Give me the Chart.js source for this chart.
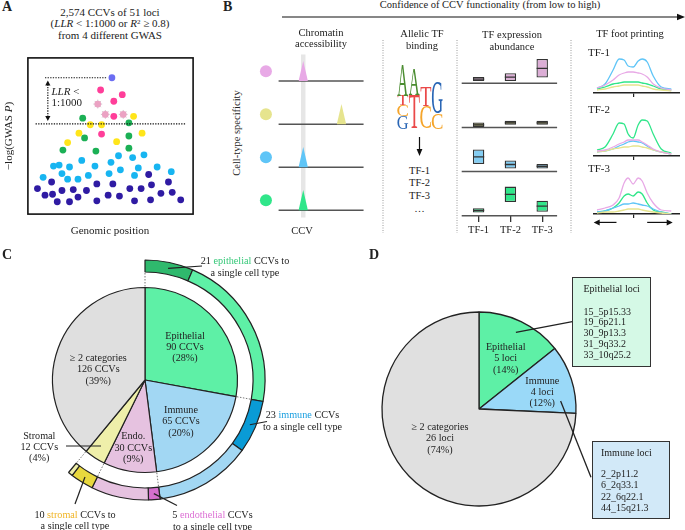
<!DOCTYPE html>
<html>
<head>
<meta charset="utf-8">
<script src="https://cdn.jsdelivr.net/npm/chart.js@4.4.1/dist/chart.umd.min.js"></script>
<style>
  body { margin: 0; background: #fff; }
  #fig { position: relative; width: 685px; height: 530px; overflow: hidden;
         font-family: "Liberation Serif", "DejaVu Serif", serif; color: #222; font-size: 10.5px; }
  #fig canvas { position: absolute; }
  .t { position: absolute; white-space: nowrap; line-height: 11.5px; text-align: center; transform: translate(-50%, -50%); }
  .l { position: absolute; white-space: nowrap; line-height: 11.5px; transform: translateY(-50%); }
  .p { position: absolute; font-weight: bold; font-size: 14px; transform: translateY(-50%); }
  .box { position: absolute; border: 1.5px solid #333; box-sizing: border-box; }
  sup { font-size: 7px; vertical-align: 3px; line-height: 0; }
</style>
</head>
<body>
<div id="fig">
  <svg width="685" height="530" style="position:absolute;left:0;top:0">
    <line x1="282" y1="17" x2="679" y2="17" stroke="#111" stroke-width="1.2"/>
    <polygon points="685,17 677,13.8 677,20.2" fill="#111"/>
    <g stroke="#9a9a9a" stroke-width="1" stroke-dasharray="1,1.5">
      <line x1="383" y1="40" x2="383" y2="233"/>
      <line x1="457" y1="40" x2="457" y2="233"/>
      <line x1="571" y1="40" x2="571" y2="233"/>
    </g>
    <line x1="419.5" y1="137" x2="419.5" y2="150" stroke="#111" stroke-width="1.2"/>
    <polygon points="419.5,156 416.6,149 422.4,149" fill="#111"/>
  </svg>
</div>
<script>
'use strict';

// ---- A: CCV scatter (genomic position, -log P)
const leadSnp = [[90, 146]];
const pinkCcvs = [[78, 133], [101, 128], [92, 121], [92, 105], [79, 86]];
const paleCcvs = [[75, 118], [83, 107], [102, 107]];
const yellowCcvs = [[113, 105], [67, 96], [79, 96], [55, 87], [122, 87], [43, 77], [95, 78]];
const greenCcvs = [[59, 103], [108, 98], [61, 82], [108, 84], [38, 69], [73, 68], [108, 71]];
const cyanSnps = [[97, 63], [58, 58], [112, 61], [124, 64], [28, 52], [34, 53], [45, 51], [72, 52], [89, 56],
  [118, 50], [138, 51], [17, 40], [37, 44], [43, 38], [54, 38], [65, 42], [87, 44], [99, 48], [114, 42], [153, 46]];
const navySnps = [[129, 43], [26, 35], [11, 28], [19, 21], [27, 22], [32, 14], [37, 26], [45, 14], [49, 27],
  [54, 19], [63, 26], [74, 33], [74, 15], [86, 21], [91, 33], [98, 20], [109, 28], [114, 15], [121, 28],
  [131, 16], [132, 32], [142, 23], [150, 35], [154, 24], [163, 16]];
const llrCut = 97;
const leadLevel = 146;

// ---- B: cell types (top to bottom rows)
const cellTypes = ['Endothelial', 'Stromal', 'Immune', 'Epithelial'];
const cellColors = ['#e8a9e6', '#e6e48e', '#5fc5f7', '#30e68a'];
const rowBase = [3, 2, 1, 0];
const peakPos = [0.29, 0.74, 0.29, 0.29];
const peakHeight = [0.47, 0.47, 0.47, 0.47];
const ccvPos = 0.29;

// motif logo, letters bottom -> top per position
const logoPositions = ['1', '2', '3', '4'];
const logoLetters = [['G', 'C', 'T', 'A'], ['T', 'A'], ['C', 'T'], ['C', 'G']];
const logoHeights = [[13, 11, 9, 30], [34, 27], [23, 20], [15, 31]];
const baseColors = { A: '#4a8c30', C: '#f5a52b', G: '#2a66b5', T: '#ea4949' };

// TF expression boxes [low, high] above each row's baseline
const tfNames = ['TF-1', 'TF-2', 'TF-3'];
const exprEndo = [[0.05, 0.14], [0.05, 0.23], [0.13, 0.55]];
const exprStromal = [[0.01, 0.11], [0.06, 0.15], [0.06, 0.15]];
const exprImmune = [[0.17, 0.50], [0.07, 0.25], [0.07, 0.17]];
const exprEpi = [[0.07, 0.17], [0.31, 0.66], [0.09, 0.34]];
const exprFill = ['#dcaed6', '#86854a', '#84cdf2', '#30e68a'];

// TF footprint signal by position
const fpPos = [-36, -28, -20, -14, -9, -5, 0, 5, 9, 14, 20, 28, 38];
const fp1Endo = [5, 8, 13, 18, 20, 21, 21, 20, 19, 16, 9, 5, 3];
const fp1Stromal = [3, 4, 6, 7, 8, 8, 8, 8, 7, 6, 4, 3, 2];
const fp1Immune = [5, 9, 23, 34, 33, 27, 26, 32, 34, 31, 17, 6, 4];
const fp1Epi = [4, 6, 9, 10, 11, 11, 11, 11, 10, 9, 7, 4, 3];
const fp2Endo = [5, 6, 9, 12, 14, 16, 16, 16, 14, 11, 7, 4, 2];
const fp2Stromal = [4, 5, 7, 8, 9, 9, 10, 10, 9, 8, 6, 4, 2];
const fp2Immune = [4, 5, 7, 10, 12, 14, 15, 14, 13, 10, 6, 4, 2];
const fp2Epi = [6, 9, 22, 33, 32, 22, 18, 31, 36, 35, 22, 7, 3];
const fp3Endo = [4, 6, 9, 16, 31, 36, 30, 36, 33, 21, 11, 4, 3];
const fp3Stromal = [1, 2, 2, 3, 4, 5, 5, 5, 4, 3, 2, 1, 0];
const fp3Immune = [2, 3, 6, 8, 10, 10, 11, 10, 9, 8, 5, 2, 0];
const fp3Epi = [2, 3, 6, 11, 18, 20, 18, 22, 20, 11, 4, 2, 0];

// ---- C: CCVs per category
const ccvGroups = ['Epithelial', 'Immune', 'Endo.', 'Stromal', '≥ 2 categories'];
const ccvCounts = [90, 65, 30, 12, 126];
const ccvColors = ['#5ef0a6', '#a2d7f3', '#e6c2e0', '#efefaa', '#dfdfdf'];
const singleCellCcvs = [21, 23, 5, 10];
const singleColors = ['#2fb96d', '#0a9bd6', '#d46fcd', '#e8d83e'];

// ---- D: loci per category
const lociGroups = ['Epithelial', 'Immune', '≥ 2 categories'];
const lociCounts = [5, 4, 26];
const lociColors = ['#5ef0a6', '#9ad9f8', '#e0e0e0'];
const epithelialLoci = ['15_5p15.33', '19_6p21.1', '30_9p13.3', '31_9q33.2', '33_10q25.2'];
const immuneLoci = ['2_2p11.2', '6_2q33.1', '22_6q22.1', '44_15q21.3'];

const SERIF = '"Liberation Serif", "DejaVu Serif", serif';
Chart.defaults.font.family = SERIF;
Chart.defaults.font.size = 10.5;
Chart.defaults.color = '#222';

const fig = document.getElementById('fig');

function makeCanvas(x, y, w, h) {
  const c = document.createElement('canvas');
  c.width = w; c.height = h;
  c.style.left = x + 'px'; c.style.top = y + 'px';
  c.style.width = w + 'px'; c.style.height = h + 'px';
  fig.appendChild(c);
  return c;
}

function text(x, y, html, cls, style) {
  const d = document.createElement('div');
  d.className = cls || 't';
  d.style.left = x + 'px';
  d.style.top = y + 'px';
  if (style) Object.assign(d.style, style);
  d.innerHTML = html;
  fig.appendChild(d);
  return d;
}

function baseOptions(extra) {
  return Object.assign({
    responsive: false,
    animation: false,
    events: [],
    layout: { padding: 0 },
    plugins: { legend: { display: false }, tooltip: { enabled: false } }
  }, extra);
}

function seg(ctx, x1, y1, x2, y2) {
  ctx.beginPath(); ctx.moveTo(x1, y1); ctx.lineTo(x2, y2); ctx.stroke();
}

function head(ctx, x, y, dx, dy, len, half) {
  // filled arrow head with tip at (x, y) pointing along (dx, dy)
  ctx.beginPath();
  ctx.moveTo(x, y);
  ctx.lineTo(x - dx * len - dy * half, y - dy * len + dx * half);
  ctx.lineTo(x - dx * len + dy * half, y - dy * len - dx * half);
  ctx.closePath();
  ctx.fill();
}

// ================= A =================
const frameA = {
  id: 'frameA',
  afterDraw(chart) {
    const { ctx, chartArea: a } = chart;
    const x = v => chart.scales.x.getPixelForValue(v);
    const y = v => chart.scales.y.getPixelForValue(v);
    ctx.save();
    ctx.strokeStyle = '#111';
    ctx.fillStyle = '#111';
    ctx.lineWidth = 1.6;
    ctx.strokeRect(a.left + 0.8, a.top + 0.8, a.width - 1.6, a.height - 1.6);
    ctx.lineWidth = 1.2;
    ctx.setLineDash([1.3, 1.3]);
    seg(ctx, x(9), y(llrCut), x(169), y(llrCut));
    seg(ctx, x(19), y(leadLevel), x(84), y(leadLevel));
    seg(ctx, x(22), y(leadLevel - 7), x(22), y(llrCut + 7));
    ctx.setLineDash([]);
    head(ctx, x(22), y(leadLevel - 3), 0, -1, 5, 2.6);
    head(ctx, x(22), y(llrCut + 3), 0, 1, 5, 2.6);
    ctx.restore();
  }
};

const dots = (data, color) => ({ data, backgroundColor: color, borderWidth: 0, pointRadius: 3.4 });

new Chart(makeCanvas(22, 52, 177, 168), {
  type: 'scatter',
  data: {
    datasets: [
      dots(leadSnp, '#6b6df2'),
      dots(pinkCcvs, '#ff3e99'),
      dots(paleCcvs, '#eba2c3'),
      { data: paleCcvs, pointStyle: 'star', pointRadius: 4.4, borderColor: '#b9aab2', borderWidth: 0.7,
        backgroundColor: 'transparent' },
      dots(yellowCcvs, '#ffe51a'),
      dots(greenCcvs, '#1bb055'),
      dots(cyanSnps, '#17b5f1'),
      dots(navySnps, '#2f1ba3')
    ]
  },
  options: baseOptions({
    scales: { x: { display: false, min: 0, max: 177 }, y: { display: false, min: 0, max: 168 } }
  }),
  plugins: [frameA]
});

// ================= B: chromatin accessibility =================
const chromSets = [{
  data: cellColors.map((c, i) => ({ x: -0.149, y: rowBase[i] + 0.23 })),
  showLine: false, pointRadius: 6, pointBackgroundColor: cellColors, pointBorderWidth: 0, order: 0
}];
cellTypes.forEach((name, i) => {
  const b = rowBase[i], p = peakPos[i];
  chromSets.push({
    label: name,
    data: [{ x: p - 0.055, y: b }, { x: p, y: b + peakHeight[i] }, { x: p + 0.055, y: b }],
    fill: { value: b }, backgroundColor: cellColors[i], borderWidth: 0, pointRadius: 0, tension: 0, order: 1
  });
  chromSets.push({
    data: [{ x: 0, y: b }, { x: 1, y: b }],
    borderColor: '#555', borderWidth: 1.5, pointRadius: 0, order: 5
  });
});
chromSets.push({
  data: [{ x: ccvPos, y: -0.17 }, { x: ccvPos, y: 3.62 }],
  borderColor: '#e6e6e6', borderWidth: 4.5, pointRadius: 0, order: 10
});

new Chart(makeCanvas(250, 45, 125, 185), {
  type: 'line',
  data: { datasets: chromSets },
  options: baseOptions({
    scales: {
      x: { type: 'linear', display: false, min: -0.266, max: 1.064 },
      y: { display: false, min: -0.32, max: 3.70 }
    }
  })
});

// ================= B: motif logo =================
const logoGlyphs = {
  id: 'logoGlyphs',
  afterDatasetsDraw(chart) {
    const ctx = chart.ctx;
    chart.data.datasets.forEach((ds, k) => {
      chart.getDatasetMeta(k).data.forEach((bar, i) => {
        const letter = ds.letters[i];
        if (!letter) return;
        const { x, y, base, width } = bar.getProps(['x', 'y', 'base', 'width'], true);
        const h = base - y;
        if (h <= 0) return;
        ctx.save();
        ctx.font = '100px ' + SERIF;
        ctx.textAlign = 'left';
        ctx.textBaseline = 'alphabetic';
        const m = ctx.measureText(letter);
        const gw = m.actualBoundingBoxLeft + m.actualBoundingBoxRight;
        const gh = m.actualBoundingBoxAscent + m.actualBoundingBoxDescent;
        ctx.translate(x - width / 2, y);
        ctx.scale(width / gw, h / gh);
        ctx.fillStyle = baseColors[letter];
        ctx.fillText(letter, m.actualBoundingBoxLeft, m.actualBoundingBoxAscent);
        ctx.restore();
      });
    });
  }
};

new Chart(makeCanvas(397, 60, 46, 69), {
  type: 'bar',
  data: {
    labels: logoPositions,
    datasets: [0, 1, 2, 3].map(k => ({
      data: logoHeights.map(h => h[k] || 0),
      letters: logoLetters.map(l => l[k] || ''),
      backgroundColor: 'rgba(0,0,0,0)', borderWidth: 0,
      barPercentage: 0.94, categoryPercentage: 1
    }))
  },
  options: baseOptions({
    scales: {
      x: { stacked: true, display: false },
      y: { stacked: true, display: false, min: 0, max: 69 }
    }
  }),
  plugins: [logoGlyphs]
});

// ================= B: TF expression =================
const exprRows = [exprEndo, exprStromal, exprImmune, exprEpi];
const exprSets = [];
exprRows.forEach((row, i) => {
  const b = rowBase[i];
  exprSets.push({
    type: 'bar',
    data: row.map(r => [b + r[0], b + r[1]]),
    backgroundColor: exprFill[i], borderColor: '#333', borderWidth: 1.3, borderSkipped: false,
    grouped: false, barPercentage: 0.36, categoryPercentage: 1, order: 2
  });
  exprSets.push({
    type: 'line',
    data: row.map(r => b + (r[0] + r[1]) / 2),
    showLine: false, pointStyle: 'line', pointRadius: 5.6,
    pointBorderColor: '#333', pointBorderWidth: 1.3, order: 1
  });
});

const rowLines = {
  id: 'rowLines',
  beforeDatasetsDraw(chart) {
    const { ctx, chartArea: a } = chart;
    ctx.save();
    ctx.strokeStyle = '#555';
    ctx.lineWidth = 1.5;
    rowBase.forEach(b => {
      const y = chart.scales.y.getPixelForValue(b);
      seg(ctx, a.left - 1, y, a.right - 1, y);
    });
    ctx.restore();
  }
};

new Chart(makeCanvas(455, 45, 110, 193), {
  type: 'bar',
  data: { labels: tfNames, datasets: exprSets },
  options: baseOptions({
    layout: { padding: { left: 7.7, right: 2.3 } },
    scales: {
      x: {
        type: 'category', offset: true,
        grid: { offset: false, drawOnChartArea: false, drawTicks: true, tickLength: 6, color: '#333', lineWidth: 1.3 },
        border: { display: false },
        ticks: { padding: 2, color: '#222', font: { size: 10.5 } },
        afterFit(s) { s.height = 22; }
      },
      y: { display: false, min: -0.0065, max: 3.711 }
    }
  }),
  plugins: [rowLines]
});

// ================= B: TF foot printing =================
const footprints = [
  { name: 'TF-1', curves: [fp1Endo, fp1Stromal, fp1Immune, fp1Epi], baseline: 92.7 },
  { name: 'TF-2', curves: [fp2Endo, fp2Stromal, fp2Immune, fp2Epi], baseline: 155.7 },
  { name: 'TF-3', curves: [fp3Endo, fp3Stromal, fp3Immune, fp3Epi], baseline: 214.3 }
];

const flankArrows = {
  id: 'flankArrows',
  afterDraw(chart) {
    const { ctx, chartArea: a } = chart;
    const x = v => chart.scales.x.getPixelForValue(v);
    const y = a.bottom + 8.4;
    ctx.save();
    ctx.strokeStyle = '#111'; ctx.fillStyle = '#111'; ctx.lineWidth = 1.2;
    seg(ctx, x(-16.6), y, x(-34), y);
    head(ctx, x(-39.3), y, -1, 0, 6, 3);
    seg(ctx, x(14), y, x(34), y);
    head(ctx, x(39.4), y, 1, 0, 6, 3);
    ctx.restore();
  }
};

footprints.forEach((fp, k) => {
  const last = k === footprints.length - 1;
  new Chart(makeCanvas(593, fp.baseline - 40, 87, last ? 56 : 44), {
    type: 'line',
    data: {
      datasets: fp.curves.map((vals, i) => ({
        label: cellTypes[i],
        data: fpPos.map((p, j) => ({ x: p, y: vals[j] })),
        borderColor: cellColors[i], borderWidth: 1.3, pointRadius: 0,
        cubicInterpolationMode: 'monotone', fill: false
      }))
    },
    options: baseOptions({
      layout: { padding: { bottom: last ? 12 : 0 } },
      scales: {
        x: {
          type: 'linear', min: -40, max: 46.7,
          afterBuildTicks(s) { s.ticks = [{ value: 0 }]; },
          ticks: { display: false },
          grid: { drawOnChartArea: false, tickLength: 4, color: '#222', lineWidth: 1.2 },
          border: { color: '#222', width: 1.5 },
          afterFit(s) { s.height = 4; }
        },
        y: { display: false, min: 0, max: 40 }
      }
    }),
    plugins: last ? [flankArrows] : []
  });
});

// ================= C =================
const padC = { left: 25, right: 75, top: 2, bottom: 30 };
new Chart(makeCanvas(0, 258, 340, 272), {
  type: 'pie',
  data: {
    labels: ccvGroups,
    datasets: [{ data: ccvCounts, backgroundColor: ccvColors, borderColor: '#222', borderWidth: 1.2 }]
  },
  options: baseOptions({ radius: 92.5, layout: { padding: padC } })
});

const ringData = [], ringColors = [], ringBorders = [];
singleCellCcvs.forEach((n, i) => {
  ringData.push(n, ccvCounts[i] - n);
  ringColors.push(singleColors[i], ccvColors[i]);
  ringBorders.push(1.2, 1.2);
});
ringData.push(ccvCounts[4]);
ringColors.push('rgba(0,0,0,0)');
ringBorders.push(0);

const ringNotes = {
  id: 'ringNotes',
  afterDatasetsDraw(chart) {
    const ctx = chart.ctx;
    const arcs = chart.getDatasetMeta(0).data;
    const cx = arcs[0].x, cy = arcs[0].y;
    const at = (a, r) => [cx + r * Math.cos(a), cy + r * Math.sin(a)];
    ctx.save();
    ctx.strokeStyle = '#777';
    ctx.lineWidth = 1;
    ctx.setLineDash([1.5, 1.5]);
    [0, 2, 4, 6, 8].forEach(i => {
      const a = arcs[i].startAngle;
      const p = at(a, 93.5), q = at(a, arcs[i].innerRadius);
      seg(ctx, p[0], p[1], q[0], q[1]);
    });
    ctx.setLineDash([]);
    ctx.strokeStyle = '#222';
    ctx.lineWidth = 1.2;
    const targets = [[0, 202, 8], [2, 267, 163.5], [4, 177, 247.5], [6, 75, 246]];
    targets.forEach(([i, tx, ty]) => {
      const arc = arcs[i];
      const p = at((arc.startAngle + arc.endAngle) / 2, (arc.innerRadius + arc.outerRadius) / 2);
      seg(ctx, p[0], p[1], tx, ty);
    });
    seg(ctx, 66, 188, 101, 188);
    ctx.restore();
  }
};

new Chart(makeCanvas(0, 258, 340, 272), {
  type: 'doughnut',
  data: {
    datasets: [{ data: ringData, backgroundColor: ringColors, borderColor: '#222', borderWidth: ringBorders }]
  },
  options: baseOptions({ radius: 120, cutout: '90%', layout: { padding: padC } }),
  plugins: [ringNotes]
});

// ================= D =================
const lociNotes = {
  id: 'lociNotes',
  afterDatasetsDraw(chart) {
    const ctx = chart.ctx;
    const arcs = chart.getDatasetMeta(0).data;
    const pt = (arc, f, r) => {
      const a = arc.startAngle + f * (arc.endAngle - arc.startAngle);
      return [arc.x + r * Math.cos(a), arc.y + r * Math.sin(a)];
    };
    ctx.save();
    ctx.strokeStyle = '#222';
    ctx.lineWidth = 1.3;
    const e = pt(arcs[0], 0.5, 85), m = pt(arcs[1], 0.8, 82);
    seg(ctx, e[0], e[1], 232.3, 59.7);
    seg(ctx, m[0], m[1], 251, 215.3);
    ctx.restore();
  }
};

new Chart(makeCanvas(340, 262, 345, 268), {
  type: 'pie',
  data: {
    labels: lociGroups,
    datasets: [{ data: lociCounts, backgroundColor: lociColors, borderColor: '#222', borderWidth: 1.3 }]
  },
  options: baseOptions({ radius: 97, layout: { padding: { left: 40, right: 107, top: 48, bottom: 22 } } }),
  plugins: [lociNotes]
});

// ================= text =================
text(2, 7, 'A', 'p');
text(223, 7, 'B', 'p');
text(2, 255, 'C', 'p');
text(369, 255, 'D', 'p');

// A
text(110, 24.5, '2,574 CCVs of 51 loci<br>(<i>LLR</i> &lt; 1:1000 or <i>R</i><sup>2</sup> ≥ 0.8)<br>from 4 different GWAS',
  't', { fontSize: '11px', lineHeight: '11.8px' });
text(51.5, 92.3, '<i>LLR</i> &lt;', 'l', { fontSize: '11px' });
text(51.5, 103.3, '1:1000', 'l', { fontSize: '11px' });
text(110, 231, 'Genomic position', 't', { fontSize: '11px' });
text(9, 136, '−log(GWAS <i>P</i>)', 't', { fontSize: '11px', transform: 'translate(-50%,-50%) rotate(-90deg)' });

// B
text(490, 5, 'Confidence of CCV functionality (from low to high)');
text(237, 133, 'Cell-type specificity', 't', { transform: 'translate(-50%,-50%) rotate(-90deg)' });
text(321, 37.5, 'Chromatin<br>accessibility');
text(422, 39, 'Allelic TF<br>binding');
text(512, 40, 'TF expression<br>abundance');
text(630, 34, 'TF foot printing');
text(302, 231, 'CCV');
text(419.5, 170.5, 'TF-1');
text(419.5, 183, 'TF-2');
text(419.5, 195.5, 'TF-3');
text(419.5, 209, '…');
footprints.forEach((fp, k) => text(588, [53, 110, 169][k], fp.name, 'l', { fontSize: '11px' }));

// C
const cs = { fontSize: '10.2px', lineHeight: '11.4px' };
text(185, 346.5, 'Epithelial<br>90 CCVs<br>(28%)', 't', cs);
text(98.3, 368.7, '≥ 2 categories<br>126 CCVs<br>(39%)', 't', cs);
text(181, 420.7, 'Immune<br>65 CCVs<br>(20%)', 't', cs);
text(133.3, 447.2, 'Endo.<br>30 CCVs<br>(9%)', 't', cs);
text(39.3, 446.5, 'Stromal<br>12 CCVs<br>(4%)', 't', cs);
text(245, 266.2, '21 <span style="color:#35c878">epithelial</span> CCVs to<br>a single cell type', 't', cs);
text(302.5, 420.3, '23 <span style="color:#1a9fe0">immune</span> CCVs<br>to a single cell type', 't', cs);
text(75, 520, '10 <span style="color:#f0b424">stromal</span> CCVs to<br>a single cell type', 't', cs);
text(212.5, 520.3, '5 <span style="color:#dc6fd4">endothelial</span> CCVs<br>to a single cell type', 't', cs);

// D
text(505.7, 358, 'Epithelial<br>5 loci<br>(14%)', 't', cs);
text(542.3, 391.5, 'Immune<br>4 loci<br>(12%)', 't', cs);
text(440, 437.7, '≥ 2 categories<br>26 loci<br>(74%)', 't', cs);

const boxE = document.createElement('div');
boxE.className = 'box';
Object.assign(boxE.style, { left: '572px', top: '277px', width: '79px', height: '90px', background: '#d5f9e6' });
fig.appendChild(boxE);
const boxI = document.createElement('div');
boxI.className = 'box';
Object.assign(boxI.style, { left: '592px', top: '441px', width: '78px', height: '78px', background: '#d2e9f8' });
fig.appendChild(boxI);

const bs = { fontSize: '10px' };
text(583.5, 289, 'Epithelial loci', 'l', bs);
epithelialLoci.forEach((s, i) => text(583.5, 311.5 + 10.9 * i, s, 'l', bs));
text(601, 452.7, 'Immune loci', 'l', bs);
immuneLoci.forEach((s, i) => text(601, 473.5 + 11.5 * i, s, 'l', bs));
</script>
</body>
</html>
